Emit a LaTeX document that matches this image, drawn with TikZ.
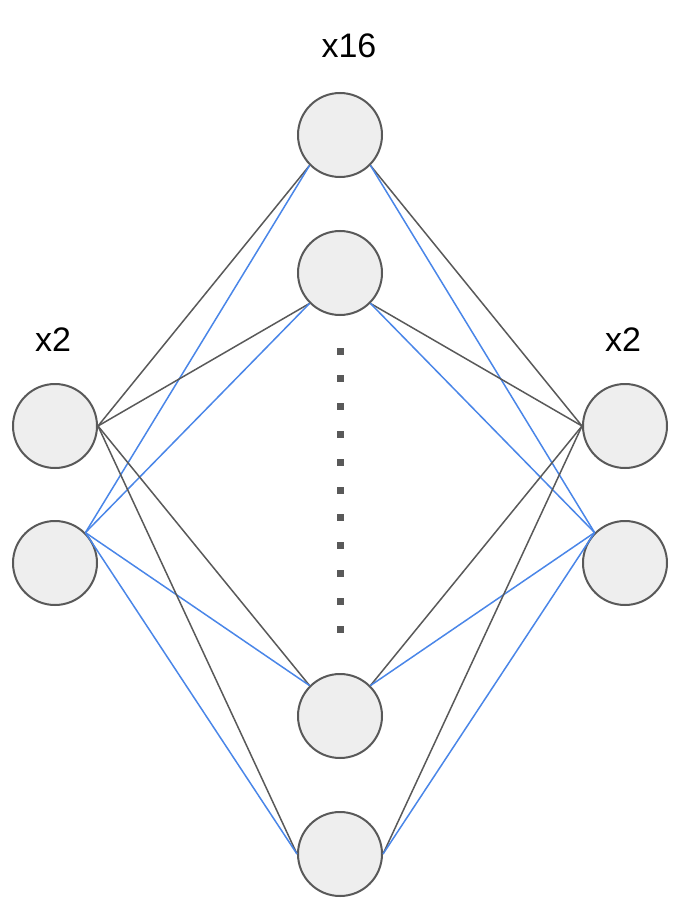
\documentclass[tikz,border=0pt]{standalone}
\usepackage{fontspec}
\setmainfont{Liberation Sans}
\usetikzlibrary{positioning}
\definecolor{nodefill}{HTML}{EEEEEE}
\definecolor{edgegray}{HTML}{595959}
\definecolor{edgeblue}{HTML}{4A86E8}

\begin{document}
\begin{tikzpicture}[
  x=1pt, y=-1pt,
  font=\fontsize{34}{40}\selectfont,
  unit/.style={draw=edgegray, line width=2pt, circle, fill=nodefill, minimum size=84pt, inner sep=0pt},
  gw/.style={draw=edgegray, line width=1.5pt},
  bw/.style={draw=edgeblue, line width=1.5pt},
  dot/.style={fill=edgegray, minimum size=7pt, inner sep=0pt}
]
  \useasboundingbox (0,0) rectangle (680,912);

  % input, hidden and output units
  \node[unit] (l1) at (55,426) {};
  \node[unit] (l2) at (55,563) {};
  \node[unit] (m1) at (340,135) {};
  \node[unit] (m2) at (340,273) {};
  \node[unit] (m3) at (340,716) {};
  \node[unit] (m4) at (340,854) {};
  \node[unit] (r1) at (625,426) {};
  \node[unit] (r2) at (625,563) {};

  \node (cntl) at (53,340) {x2};
  \node (cntm) at (349,46) {x16};
  \node (cntr) at (623,340) {x2};

  \foreach \i in {0,...,10} \node[dot] (d\i) at (340,{351+27.8*\i}) {};

  \foreach \m/\a/\b in {m1/south west/south east, m2/south west/south east, m3/north west/north east, m4/west/east} {
    \draw[gw] (l1.east) -- (\m.\a);
    \draw[bw] (l2.north east) -- (\m.\a);
    \draw[gw] (\m.\b) -- (r1.west);
    \draw[bw] (\m.\b) -- (r2.north west);
  }
\end{tikzpicture}
\end{document}
